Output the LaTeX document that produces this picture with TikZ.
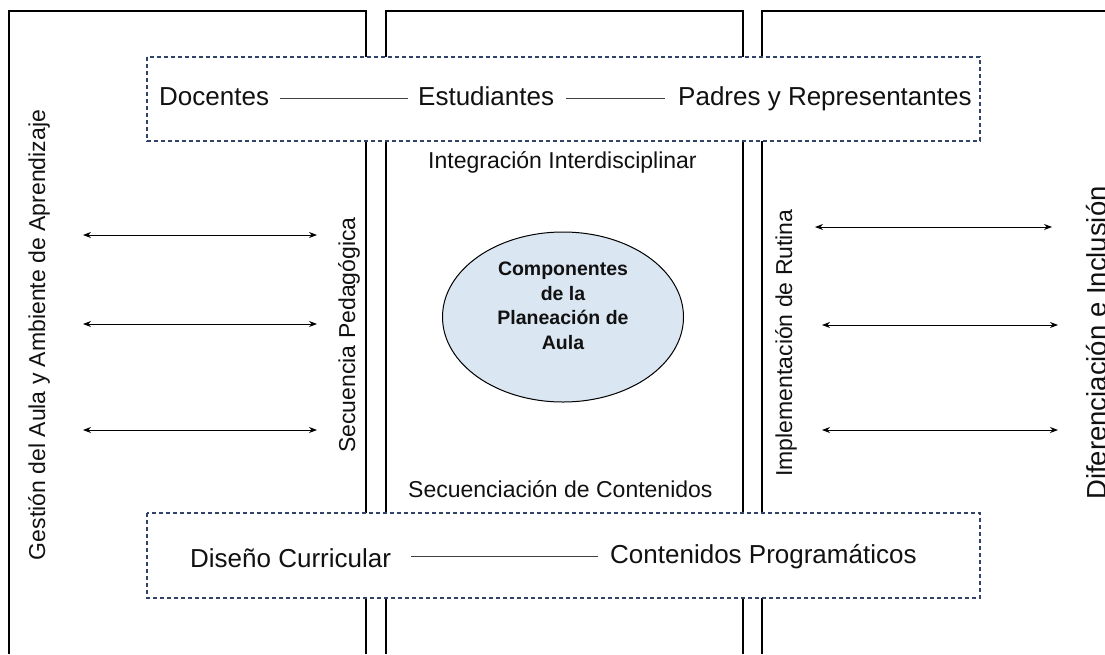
\documentclass[tikz,border=0pt]{standalone}
\usepackage{fontspec}
\setmainfont{Liberation Sans}
\usetikzlibrary{arrows.meta,shapes.geometric}
\definecolor{navy}{HTML}{2F4468}
\definecolor{ellfill}{HTML}{DAE6F2}
\definecolor{txt}{HTML}{111111}
\begin{document}
\begin{tikzpicture}[x=1pt,y=-1pt,
 panel/.style={line width=1.2pt, draw=black},
 dbox/.style={draw=navy, line width=1.2pt, dash pattern=on 4pt off 3pt},
 big/.style={font=\fontsize{26}{31}\selectfont, text=txt, inner sep=0pt},
 small/.style={font=\fontsize{23}{28}\selectfont, text=txt, inner sep=0pt},
 link/.style={line width=1pt, draw=black!75},
 dbl/.style={line width=0.9pt, draw=black, {Stealth[length=8pt,width=6pt]}-{Stealth[length=8pt,width=6pt]}}
]
\useasboundingbox (0,0) rectangle (1105,654);
\fill[white] (0,0) rectangle (1105,654);

% panels
\draw[panel] (9,654) -- (9,11) -- (366,11) -- (366,57);
\draw[panel] (366,141) -- (366,513);
\draw[panel] (366,598) -- (366,654);
\draw[panel] (386,57) -- (386,11) -- (743,11) -- (743,57);
\draw[panel] (386,141) -- (386,513);
\draw[panel] (743,141) -- (743,513);
\draw[panel] (386,598) -- (386,654);
\draw[panel] (743,598) -- (743,654);
\draw[panel] (762,57) -- (762,11) -- (1106,11);
\draw[panel] (762,141) -- (762,513);
\draw[panel] (762,598) -- (762,654);

% dashed boxes
\draw[dbox] (147,57) rectangle (980,141);
\draw[dbox] (147,513) rectangle (980,598);

% top row
\node[big, anchor=base west] (doc) at (159,105) {Docentes};
\node[big, anchor=base west] (est) at (418,105) {Estudiantes};
\node[big, anchor=base west] (pad) at (678,105) {Padres y Representantes};
\draw[link] ([xshift=11pt,yshift=7pt]doc.base east) -- ([xshift=-10pt,yshift=7pt]est.base west);
\draw[link] ([xshift=12pt,yshift=7pt]est.base east) -- ([xshift=-13pt,yshift=7pt]pad.base west);

% bottom row
\node[big, anchor=base west] (dis) at (190,567) {Diseño Curricular};
\node[big, anchor=base west] (con) at (610,563) {Contenidos Programáticos};
\draw[link] ([xshift=20pt,yshift=11pt]dis.base east) -- ([xshift=-12pt,yshift=7pt]con.base west);

% centre texts
\node[small, anchor=base west] (integ) at (428,168) {Integración Interdisciplinar};
\node[small, anchor=base west] (secc) at (408,497) {Secuenciación de Contenidos};

% ellipse
\node[ellipse, draw=black, fill=ellfill, line width=1pt, inner sep=0pt,
      minimum width=241pt, minimum height=170pt] (ell) at (563,317) {};
\node[align=center, text=txt, font=\bfseries\fontsize{19.5}{24.5}\selectfont] (core) at (563,306)
  {Componentes\\de la\\Planeación de\\Aula};

% vertical texts
\node[small, rotate=90, anchor=base] (gest) at (45,335) {Gestión del Aula y Ambiente de Aprendizaje};
\node[small, rotate=90, anchor=base] (secp) at (355,335) {Secuencia Pedagógica};
\node[small, rotate=90, anchor=base] (impl) at (792,343) {Implementación de Rutina};
\node[font=\fontsize{27.5}{33}\selectfont, text=txt, inner sep=0pt, rotate=90, anchor=base] (dif) at (1106,343) {Diferenciación e Inclusión};

% arrows
\coordinate (la1) at (83,235); \coordinate (lb1) at (317,235);
\coordinate (la2) at (83,324); \coordinate (lb2) at (317,324);
\coordinate (la3) at (83,430); \coordinate (lb3) at (317,430);
\coordinate (ra1) at (815,227); \coordinate (rb1) at (1052,227);
\coordinate (ra2) at (822,325); \coordinate (rb2) at (1058,325);
\coordinate (ra3) at (822,430); \coordinate (rb3) at (1058,430);
\draw[dbl] (la1) -- (lb1);
\draw[dbl] (la2) -- (lb2);
\draw[dbl] (la3) -- (lb3);
\draw[dbl] (ra1) -- (rb1);
\draw[dbl] (ra2) -- (rb2);
\draw[dbl] (ra3) -- (rb3);
\end{tikzpicture}
\end{document}
